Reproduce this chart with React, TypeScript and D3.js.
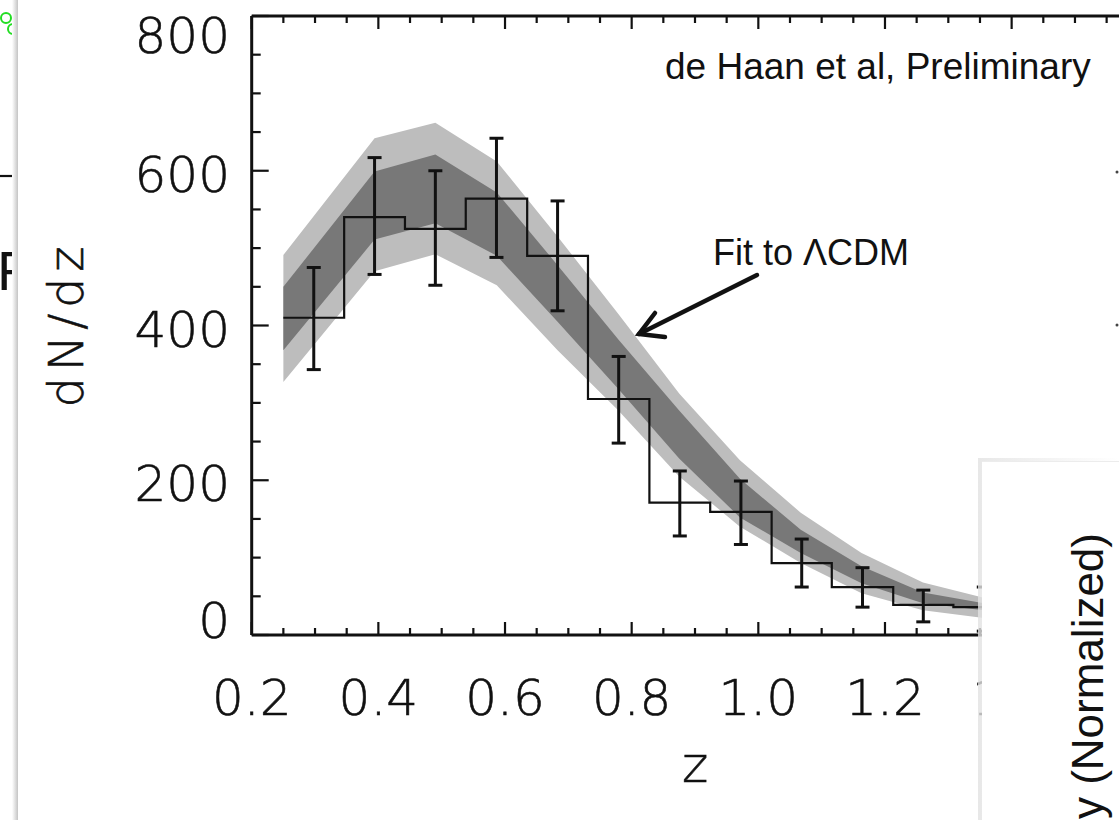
import React from "react";
import * as d3 from "d3";

// histogram of cluster counts per redshift bin
const binEdges = [0.25, 0.346, 0.442, 0.538, 0.635, 0.731, 0.828, 0.924, 1.021, 1.116, 1.213, 1.308, 1.404, 1.5];
const counts = [410, 540, 525, 564, 490, 305, 171, 159, 93, 62, 39, 36, 28];
const errLow = [343, 466, 452, 488, 419, 248, 128, 117, 62, 36, 17, 5, 2];
const errHigh = [475, 617, 600, 642, 561, 360, 212, 199, 124, 87, 58, 62, 50];

// LCDM fit bands (outer = light, inner = dark)
const bandZ = [0.25, 0.394, 0.49, 0.587, 0.683, 0.779, 0.875, 0.971, 1.067, 1.163, 1.26, 1.356, 1.452, 1.5];
const lightUpper = [491, 642, 662, 612, 515, 415, 312, 226, 158, 106, 68, 48, 34, 29];
const darkUpper = [450, 599, 621, 572, 478, 382, 290, 202, 136, 89, 55, 41, 30, 26];
const darkLower = [368, 511, 532, 490, 405, 318, 228, 152, 106, 67, 41, 32, 23, 20];
const lightLower = [327, 470, 492, 452, 368, 290, 205, 140, 93, 54, 32, 22, 15, 12];

const W = 1119;
const H = 820;
const left = 251.7;
const right = 1138.3;
const top = 16;
const bottom = 635;

export default function App() {
  const x = d3.scaleLinear().domain([0.2, 1.6]).range([left, right]);
  const y = d3.scaleLinear().domain([0, 800]).range([bottom, top]);

  const lightArea = d3.area<number>()
    .x((_, i) => x(bandZ[i]))
    .y0((_, i) => y(lightLower[i]))
    .y1((_, i) => y(lightUpper[i]));
  const darkArea = d3.area<number>()
    .x((_, i) => x(bandZ[i]))
    .y0((_, i) => y(darkLower[i]))
    .y1((_, i) => y(darkUpper[i]));

  const stepPts: [number, number][] = [];
  counts.forEach((c, i) => {
    stepPts.push([binEdges[i], c]);
    stepPts.push([binEdges[i + 1], c]);
  });
  const stepLine = d3.line<[number, number]>()
    .x(d => x(d[0]))
    .y(d => y(d[1]));

  const xMinor = x.ticks(28);
  const xMajor = x.ticks(7);
  const yMinor = y.ticks(16);
  const yMajor = y.ticks(4);
  const fmt = d3.format(".1f");

  // thin geometric-looking labels: extra light face, thickened a little with a stroke
  const lab = {
    fontFamily: "DejaVu Sans",
    fontWeight: 200,
    fill: "#111",
    stroke: "#111",
    strokeWidth: 0.6,
  };

  return (
    <svg width={W} height={H} style={{position: "absolute", left: 0, top: 0, background: "#fff"}}>
      <defs>
        <linearGradient id="shadowL" x1="0" x2="1" y1="0" y2="0">
          <stop offset="0" stopColor="#ffffff" />
          <stop offset="1" stopColor="#c4c4c4" />
        </linearGradient>
        <linearGradient id="shadowR" x1="0" x2="1" y1="0" y2="0">
          <stop offset="0" stopColor="#e2e2e2" />
          <stop offset="1" stopColor="#ffffff" />
        </linearGradient>
        <clipPath id="leftClip">
          <rect x={0} y={0} width={18} height={H} />
        </clipPath>
      </defs>
      <rect x={0} y={0} width={W} height={H} fill="#fff" />

      {/* bits of the neighbouring slide on the left */}
      <g clipPath="url(#leftClip)">
        <circle cx={6} cy={18} r={5} fill="none" stroke="#22dd22" strokeWidth={2} />
        <circle cx={13} cy={29} r={5} fill="none" stroke="#22dd22" strokeWidth={2} />
        <line x1={0} x2={17} y1={176} y2={176} stroke="#111" strokeWidth={2.2} />
        <line x1={15} x2={15} y1={170} y2={176} stroke="#111" strokeWidth={2} />
        <text x={-3} y={290} fontFamily="Liberation Sans" fontSize={56} fill="#111">F</text>
      </g>
      <rect x={12} y={0} width={6} height={H} fill="url(#shadowL)" />

      {/* fit bands */}
      <path d={lightArea(bandZ) ?? ""} fill="#bdbdbd" />
      <path d={darkArea(bandZ) ?? ""} fill="#787878" />

      {/* histogram */}
      <path d={stepLine(stepPts) ?? ""} fill="none" stroke="#111" strokeWidth={2.2} />

      {/* error bars */}
      {counts.map((c, i) => {
        const cx = x((binEdges[i] + binEdges[i + 1]) / 2);
        return (
          <g key={i} stroke="#111" strokeWidth={3}>
            <line x1={cx} x2={cx} y1={y(errLow[i])} y2={y(errHigh[i])} />
            <line x1={cx - 7} x2={cx + 7} y1={y(errLow[i])} y2={y(errLow[i])} />
            <line x1={cx - 7} x2={cx + 7} y1={y(errHigh[i])} y2={y(errHigh[i])} />
          </g>
        );
      })}

      {/* frame and ticks */}
      <g stroke="#111">
        {xMinor.map(t => {
          const major = xMajor.some(m => Math.abs(m - t) < 1e-9);
          const len = major ? 13 : 7;
          return (
            <g key={"x" + t} strokeWidth={2.2}>
              <line x1={x(t)} x2={x(t)} y1={bottom} y2={bottom - len} />
              <line x1={x(t)} x2={x(t)} y1={top} y2={top + len} />
            </g>
          );
        })}
        {yMinor.map(t => {
          const major = yMajor.some(m => Math.abs(m - t) < 1e-9);
          const len = major ? 17 : 9;
          return (
            <line key={"y" + t} x1={left} x2={left + len} y1={y(t)} y2={y(t)} strokeWidth={2.2} />
          );
        })}
        <line x1={left} x2={right} y1={top} y2={top} strokeWidth={3} />
        <line x1={left} x2={right} y1={bottom} y2={bottom} strokeWidth={3} />
        <line x1={left} x2={left} y1={top} y2={bottom} strokeWidth={3} />
        <line x1={right} x2={right} y1={top} y2={bottom} strokeWidth={3} />
      </g>

      {/* tick labels */}
      {yMajor.map(t => (
        <text key={"yl" + t} x={230} y={Math.min(Math.max(y(t), 32), 617) + 21}
          textAnchor="end" fontSize={50} {...lab}>{t}</text>
      ))}
      {xMajor.map(t => (
        <text key={"xl" + t} x={x(t)} y={715} textAnchor="middle" fontSize={50} {...lab}>{fmt(t)}</text>
      ))}

      {/* axis titles */}
      <text x={(left + right) / 2} y={782} textAnchor="middle" fontSize={50} {...lab}>z</text>
      <text transform="translate(83,327) rotate(-90)" textAnchor="middle" fontSize={48} {...lab}
        textLength={161} lengthAdjust="spacing">dN/dz</text>

      {/* annotations */}
      <text x={665} y={79} fontFamily="Liberation Sans" fontSize={37} fill="#111">de Haan et al, Preliminary</text>
      <text x={713} y={265} fontFamily="Liberation Sans" fontSize={36} fill="#111">Fit to ΛCDM</text>
      <g stroke="#111" strokeWidth={4.5} strokeLinecap="round" fill="none">
        <line x1={757} y1={275} x2={639} y2={334} />
        <polyline points="655,313 639,334 665,337" />
      </g>

      {/* overlapping panel on the right */}
      <rect x={978} y={458} width={W - 978} height={H - 458} fill="url(#shadowR)" opacity={0.8} />
      <rect x={982} y={462} width={W - 982} height={H - 462} fill="#fff" />
      <line x1={982} x2={W} y1={461.5} y2={461.5} stroke="#ececec" strokeWidth={1} />
      <text transform="translate(1103,533) rotate(-90)" textAnchor="end" fontFamily="Liberation Sans"
        fontSize={44} fill="#111">y (Normalized)</text>
      <circle cx={1117} cy={172} r={1.5} fill="#444" />
      <circle cx={1117} cy={325} r={1.5} fill="#444" />
    </svg>
  );
}
